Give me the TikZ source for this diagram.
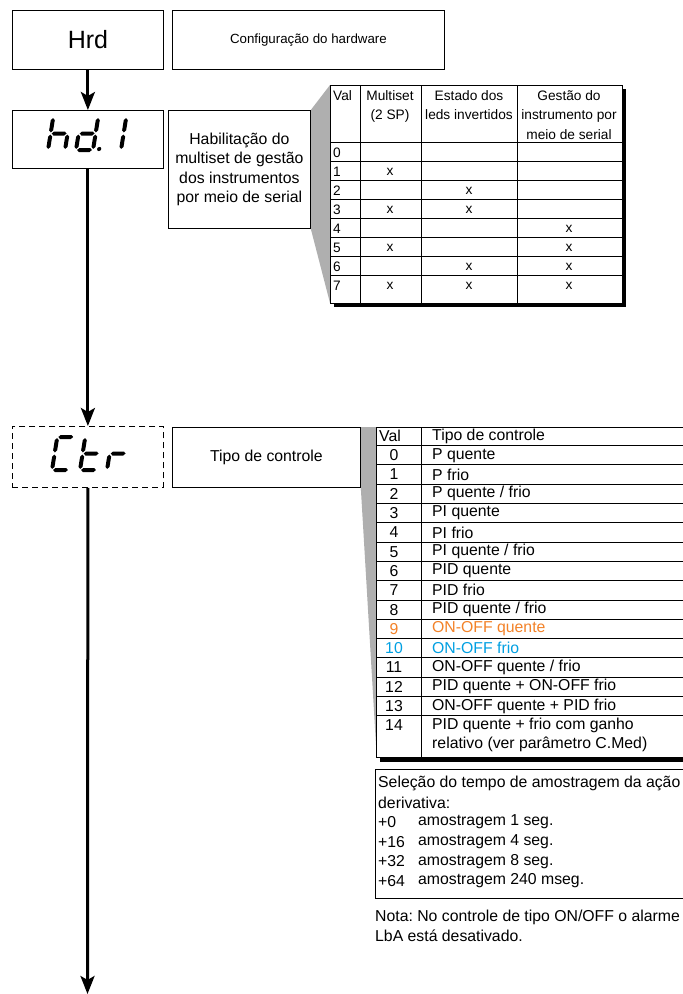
\documentclass[tikz,border=0pt]{standalone}
\usepackage{fontspec}
\setmainfont{Liberation Sans}
\usetikzlibrary{arrows.meta,backgrounds}
\definecolor{laranja}{RGB}{243,130,40}
\definecolor{azul}{RGB}{0,160,226}
\definecolor{cinza}{RGB}{175,175,175}
\frenchspacing
% segmentos do display
\newcommand{\segH}[3]{\fill (#1,#3) -- (#1+2,#3+2) -- (#2-2,#3+2) -- (#2,#3) -- (#2-2,#3-2) -- (#1+2,#3-2) -- cycle;}
\newcommand{\segV}[3]{\fill (#1,#2) -- (#1+2,#2+2) -- (#1+2,#3-2) -- (#1,#3) -- (#1-2,#3-2) -- (#1-2,#2+2) -- cycle;}
\newcommand{\sga}{\segH{1.1}{15.9}{33}}
\newcommand{\sgb}{\segV{17}{17.6}{31.9}}
\newcommand{\sgc}{\segV{17}{1.1}{15.4}}
\newcommand{\sgd}{\segH{1.1}{15.9}{0}}
\newcommand{\sge}{\segV{0}{1.1}{15.4}}
\newcommand{\sgf}{\segV{0}{17.6}{31.9}}
\newcommand{\sgg}{\segH{1.1}{15.9}{16.5}}
\newcommand{\sgp}{\fill (23,1) circle (2.1);}
\newcommand{\digito}[3]{\begin{scope}[shift={(#1,#2)},x=1pt,y=1pt,xslant=0.16]
  \foreach \s in {#3} {\csname sg\s\endcsname}
\end{scope}}

\begin{document}
\begin{tikzpicture}[x=1pt,y=-1pt,
  caixa/.style={draw, line width=0.8pt, minimum width=151pt, minimum height=59pt, anchor=north west, inner sep=0pt},
  texto/.style={font=\fontsize{15.8}{19.3}\selectfont},
  tab1/.style={font=\fontsize{13.7}{19.5}\selectfont, inner sep=0pt},
  tab2/.style={font=\fontsize{15.8}{19}\selectfont, inner sep=0pt},
  linha/.style={line width=0.8pt},
  fluxo/.style={line width=3pt, -{Stealth[length=18pt, width=14pt, inset=4pt]}}]
\useasboundingbox (0,0) rectangle (683,994);
\clip (0,0) rectangle (683,994);
% caixas
\node[caixa, font=\fontsize{25}{30}\selectfont] (hrd) at (12,10) {Hrd};
\node[caixa, minimum width=272pt, font=\fontsize{13.3}{16}\selectfont] (config) at (172,10) {Configuração do hardware};
\node[caixa, minimum height=58pt] (hd1) at (12,110) {};
\node[caixa, texto, align=center, minimum width=142pt, minimum height=118pt] (hab) at (168,110) {Habilitação do\\multiset de gestão\\dos instrumentos\\por meio de serial};
\node[caixa, dashed, dash pattern=on 6pt off 4pt, minimum height=61pt] (ctr) at (12,426) {};
\node[caixa, texto, minimum width=188pt, minimum height=60pt] (tipo) at (172,427) {Tipo de controle};
% displays
\digito{48}{150}{f,e,g,c}
\digito{76}{150}{b,c,d,e,g,p}
\digito{104}{150}{b,c}
\digito{52}{470}{a,f,e,d}
\digito{80}{470}{f,e,d,g}
\digito{107}{470}{e,g}
% fluxo
\draw[fluxo] (hrd) -- (hd1);
\draw[fluxo] (hd1) -- (ctr);
\coordinate (fim) at (87.5,994);
\draw[fluxo] (ctr) -- (fim);
% tabela hd.1
\fill (334,89) rectangle (626,307);
\filldraw[fill=white, linha] (330,85) rectangle (622,303);
\foreach \x in {360,421,517} \draw[linha] (\x,85) -- (\x,303);
\foreach \k in {0,...,7} \draw[linha] (330,{142+19.1*\k}) -- (622,{142+19.1*\k});
\node[tab1, anchor=north west] (val1) at (333,90) {Val};
\node[tab1, anchor=north, align=center] (multi) at (390,90) {Multiset\\(2 SP)};
\node[tab1, anchor=north, align=center] (leds) at (469,90) {Estado dos\\leds invertidos};
\node[tab1, anchor=north, align=center] (gest) at (569,90) {Gestão do\\instrumento por\\meio de serial};
\foreach \k in {0,...,7} \node[tab1, anchor=west] (h\k) at (333,{152.5+19.1*\k}) {\k};
\foreach \k in {1,3,5,7} \node[tab1] (m\k) at (390,{152.5+19.1*\k}) {x};
\foreach \k in {2,3,6,7} \node[tab1] (l\k) at (469,{152.5+19.1*\k}) {x};
\foreach \k in {4,5,6,7} \node[tab1] (g\k) at (569,{152.5+19.1*\k}) {x};
% tabela Ctr
\fill (380,431) rectangle (700,762);
\filldraw[fill=white, linha] (376,427) rectangle (700,757);
\draw[linha] (421,427) -- (421,757);
\foreach \k in {0,...,14} \draw[linha] (376,{445.5+19.3*\k}) -- (700,{445.5+19.3*\k});
\node[tab2] (val2) at (390,436) {Val};
\node[tab2, anchor=west] (tipot) at (432,436) {Tipo de controle};
\foreach \t/\cor [count=\k from 0] in {P quente/black, P frio/black, {P quente / frio}/black,
    PI quente/black, PI frio/black, {PI quente / frio}/black, PID quente/black, PID frio/black,
    {PID quente / frio}/black, ON-OFF quente/laranja, ON-OFF frio/azul, {ON-OFF quente / frio}/black,
    PID quente + ON-OFF frio/black, ON-OFF quente + PID frio/black}
  {\node[tab2, \cor] (n\k) at (394,{455.2+19.3*\k}) {\k};
   \node[tab2, \cor, anchor=west] (t\k) at (432,{455.2+19.3*\k}) {\t};}
\node[tab2] (n14) at (394,725) {14};
\node[tab2, anchor=west] (t14) at (432,725) {PID quente + frio com ganho};
\node[tab2, anchor=west] (t14b) at (432,744) {relativo (ver parâmetro C.Med)};
% amostragem
\draw[linha] (375,769) rectangle (700,898);
\node[tab2, anchor=west] (sel) at (378,783) {Seleção do tempo de amostragem da ação};
\node[tab2, anchor=west] (der) at (378,802.5) {derivativa:};
\foreach \p/\s [count=\k] in {+0/1 seg., +16/4 seg., +32/8 seg., +64/240 mseg.}
  {\node[tab2, anchor=west] (p\k) at (378,{802.5+19.6*\k}) {\p};
   \node[tab2, anchor=west] (a\k) at (418,{802.5+19.6*\k}) {amostragem \s};}
\node[tab2, anchor=west] (nota) at (375,917) {Nota: No controle de tipo ON/OFF o alarme};
\node[tab2, anchor=west] (nota2) at (375,936) {LbA está desativado.};
% ligacoes cinza
\begin{pgfonlayer}{background}
\fill[cinza] (hab.north east) -- (330,85) -- (330,303) -- (hab.south east) -- cycle;
\fill[cinza] (tipo.north east) -- (376,427) -- (376,745) -- (tipo.south east) -- cycle;
\end{pgfonlayer}
\end{tikzpicture}
\end{document}
